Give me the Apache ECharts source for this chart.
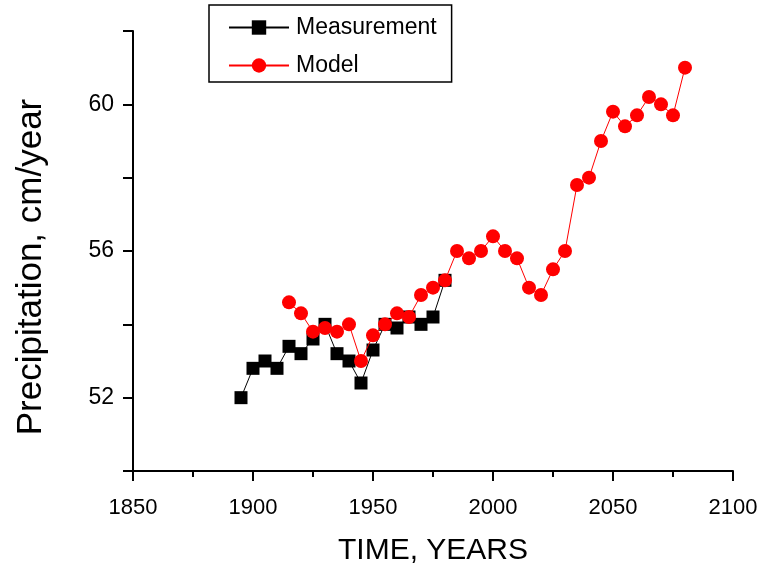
<!DOCTYPE html>
<html>
<head>
<meta charset="utf-8">
<script src="https://cdn.jsdelivr.net/npm/echarts@6/dist/echarts.min.js"></script>
<style>html,body{margin:0;padding:0;background:#fff}#c{width:762px;height:573px}</style>
</head>
<body>
<div id="c"></div>
<script>
const measurementYears = [1895,1900,1905,1910,1915,1920,1925,1930,1935,1940,1945,1950,1955,1960,1965,1970,1975,1980];
const measurementValues = [52.0,52.8,53.0,52.8,53.4,53.2,53.6,54.0,53.2,53.0,52.4,53.3,54.0,53.9,54.2,54.0,54.2,55.2];
const modelYears = [1915,1920,1925,1930,1935,1940,1945,1950,1955,1960,1965,1970,1975,1980,1985,1990,1995,2000,2005,2010,2015,2020,2025,2030,2035,2040,2045,2050,2055,2060,2065,2070,2075,2080];
const modelValues = [54.6,54.3,53.8,53.9,53.8,54.0,53.0,53.7,54.0,54.3,54.2,54.8,55.0,55.2,56.0,55.8,56.0,56.4,56.0,55.8,55.0,54.8,55.5,56.0,57.8,58.0,59.0,59.8,59.4,59.7,60.2,60.0,59.7,61.0];
const yLabelValues = [52,56,60];
const xTitle = 'TIME, YEARS';
const yTitle = 'Precipitation, cm/year';

const FONT = "'Liberation Sans', Arial, sans-serif";
const chart = echarts.init(document.getElementById('c'), null, {renderer:'canvas'});
chart.setOption({
  animation:false,
  backgroundColor:'#fff',
  grid:{left:133, right:29, top:31, bottom:102, containLabel:false},
  legend:{
    left:209, top:5, orient:'vertical',
    borderColor:'#000', borderWidth:1.5,
    padding:[11,15,5,19],
    itemWidth:60, itemHeight:18, itemGap:15,
    textStyle:{fontFamily:FONT, fontSize:23, color:'#000', padding:[0,0,0,2]},
    data:['Measurement','Model']
  },
  xAxis:{
    type:'value', min:1850, max:2100, interval:50,
    name:xTitle, nameLocation:'middle', nameGap:65,
    nameTextStyle:{fontFamily:FONT, fontSize:30, color:'#000'},
    axisLine:{lineStyle:{color:'#000', width:2}},
    axisTick:{inside:false, length:10, lineStyle:{color:'#000', width:2}},
    minorTick:{show:true, splitNumber:2, length:6, lineStyle:{color:'#000', width:2}},
    axisLabel:{fontFamily:FONT, fontSize:22, color:'#000', margin:26, formatter:v => String(v)},
    splitLine:{show:false}
  },
  yAxis:{
    type:'value', min:50, max:62, interval:2,
    name:yTitle, nameLocation:'middle', nameGap:84,
    nameTextStyle:{fontFamily:FONT, fontSize:35, color:'#000', padding:[0,32,0,0]},
    axisLine:{lineStyle:{color:'#000', width:2}},
    axisTick:{inside:false, length:10, lineStyle:{color:'#000', width:2}},
    axisLabel:{fontFamily:FONT, fontSize:23, color:'#000', margin:19,
      formatter:v => yLabelValues.indexOf(v) >= 0 ? String(v) : ''},
    splitLine:{show:false}
  },
  series:[
    {
      name:'Measurement', type:'line',
      data:measurementYears.map((y,i)=>[y, measurementValues[i]]),
      symbol:'rect', symbolSize:13,
      itemStyle:{color:'#000'},
      lineStyle:{color:'#000', width:1},
      z:2
    },
    {
      name:'Model', type:'line',
      data:modelYears.map((y,i)=>[y, modelValues[i]]),
      symbol:'circle', symbolSize:14,
      itemStyle:{color:'#ff0000'},
      lineStyle:{color:'#ff0000', width:1},
      z:3
    }
  ]
});
</script>
</body>
</html>
